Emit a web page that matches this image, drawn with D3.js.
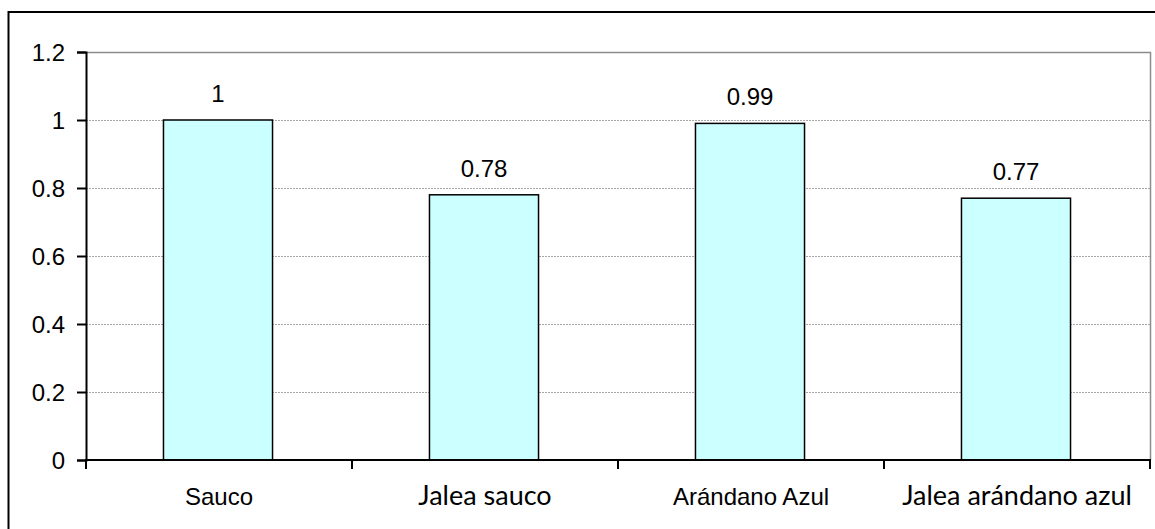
<!DOCTYPE html>
<html>
<head>
<meta charset="utf-8">
<script src="https://cdn.jsdelivr.net/npm/d3@7"></script>
<style>
  html, body { margin: 0; padding: 0; background: #fff; }
  svg { display: block; }
</style>
</head>
<body>
<svg id="chart" width="1155" height="529"></svg>
<script>
const categories = ['Sauco', 'Jalea sauco', 'Arándano Azul', 'Jalea arándano azul']
const values = [1, 0.78, 0.99, 0.77]
const yTicks = [0, 0.2, 0.4, 0.6, 0.8, 1, 1.2]

const width = 1155
const height = 529
const plot = {left: 86, right: 1150, top: 52, bottom: 460}
const arialFont = '"Liberation Sans", Arial, sans-serif'
const calibriFont = 'Lato, "Open Sans", sans-serif'

const svg = d3.select('svg#chart')

// outer chart border (runs off the right and bottom of the picture)
svg.append('rect')
  .attr('x', 8.5).attr('y', 12)
  .attr('width', width).attr('height', height)
  .attr('fill', 'none').attr('stroke', '#000').attr('stroke-width', 2)

const x = d3.scaleBand().domain(categories).range([plot.left, plot.right]).padding(0)
const y = d3.scaleLinear().domain([0, 1.2]).range([plot.bottom, plot.top])

// gridlines
svg.append('g').selectAll('line').data(yTicks.filter(d => d > 0 && d < 1.2)).enter().append('line')
  .attr('x1', plot.left).attr('x2', plot.right)
  .attr('y1', d => y(d) + 0.5).attr('y2', d => y(d) + 0.5)
  .attr('stroke', '#a6a6a6').attr('stroke-width', 1).attr('stroke-dasharray', '2,1')

// plot area border, top and right
svg.append('path')
  .attr('d', `M${plot.left},${y(1.2) + 0.5}H${plot.right + 0.5}V${plot.bottom}`)
  .attr('fill', 'none').attr('stroke', '#8c8c8c').attr('stroke-width', 1.5)

// bars
const barWidth = x.bandwidth() * 0.41
svg.append('g').selectAll('rect').data(values).enter().append('rect')
  .attr('x', (d, i) => x(categories[i]) + (x.bandwidth() - barWidth) / 2 - 1)
  .attr('y', d => y(d))
  .attr('width', barWidth)
  .attr('height', d => y(0) - y(d))
  .attr('fill', '#ccffff')
  .attr('stroke', '#000').attr('stroke-width', 1.5)

// value labels
svg.append('g').selectAll('text').data(values).enter().append('text')
  .attr('x', (d, i) => x(categories[i]) + x.bandwidth() / 2 - 1)
  .attr('y', d => y(d) - 18)
  .attr('text-anchor', 'middle')
  .attr('font-family', arialFont).attr('font-size', 24).attr('fill', '#000')
  .text(d => String(d))

// y axis
const yAxis = d3.axisLeft(y).tickValues(yTicks).tickSize(9).tickPadding(12)
  .tickFormat(d => String(d))
const gy = svg.append('g').attr('transform', `translate(${plot.left},0)`).call(yAxis)
gy.select('.domain').attr('stroke', '#000').attr('stroke-width', 2)
gy.selectAll('.tick line').attr('stroke', '#000').attr('stroke-width', 2)
gy.selectAll('.tick text')
  .attr('font-family', arialFont).attr('font-size', 24).attr('fill', '#000').attr('dy', '0.36em')

// x axis: line, ticks between categories, labels under bands
const gx = svg.append('g')
gx.append('line')
  .attr('x1', plot.left - 1).attr('x2', plot.right + 1)
  .attr('y1', plot.bottom).attr('y2', plot.bottom)
  .attr('stroke', '#000').attr('stroke-width', 2)
const boundaries = categories.map(c => x(c)).concat([x.range()[1]])
gx.selectAll('line.tick').data(boundaries).enter().append('line')
  .attr('class', 'tick')
  .attr('x1', d => d).attr('x2', d => d)
  .attr('y1', plot.bottom).attr('y2', plot.bottom + 9)
  .attr('stroke', '#000').attr('stroke-width', 2)
gx.selectAll('text').data(categories).enter().append('text')
  .attr('x', d => x(d) + x.bandwidth() / 2)
  .attr('y', 505)
  .attr('text-anchor', 'middle')
  .attr('font-family', d => d.startsWith('Jalea') ? calibriFont : arialFont)
  .attr('font-size', d => d.startsWith('Jalea') ? 27 : 24)
  .attr('fill', '#000')
  .text(d => d)
</script>
</body>
</html>
